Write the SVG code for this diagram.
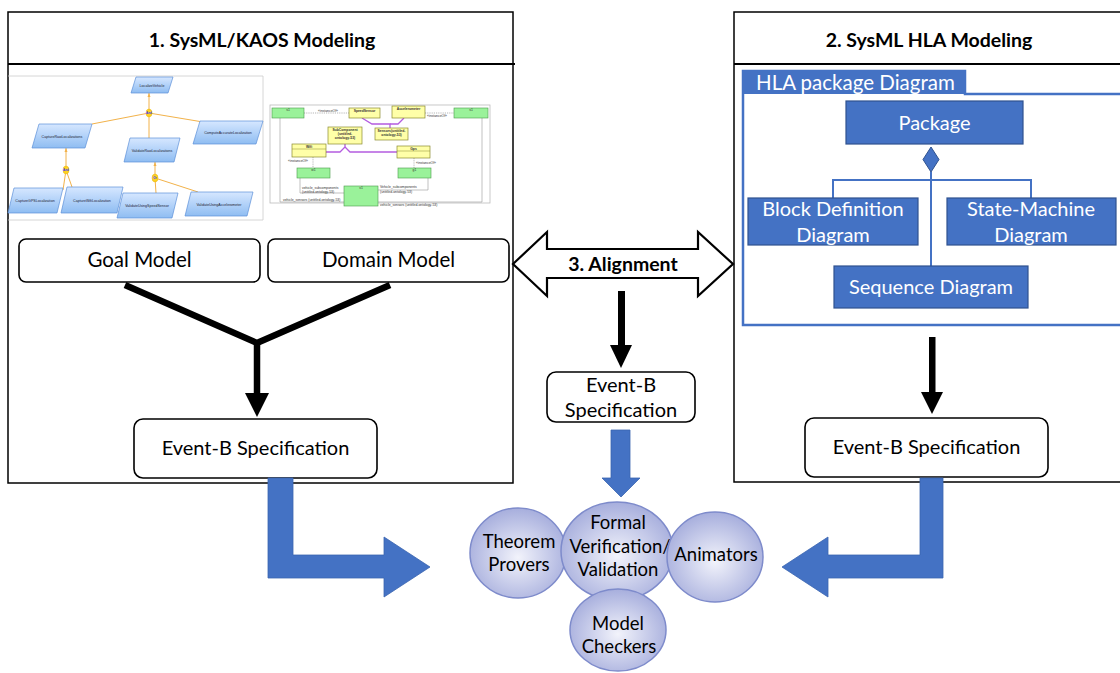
<svg xmlns="http://www.w3.org/2000/svg" width="1120" height="673" viewBox="0 0 1120 673">
<defs>
<style>
.t{font-family:Lato,"Open Sans",sans-serif;fill:#000}
.tw{font-family:Lato,"Open Sans",sans-serif;fill:#fff}
.bx{fill:#fff;stroke:#000;stroke-width:1.6}
.pb{fill:#4472C4;stroke:#2F528F;stroke-width:1.2}
.gl{fill:url(#gg);stroke:#5B8FD9;stroke-width:0.7}
.gt{font-family:"Liberation Sans",sans-serif;font-size:3.6px;fill:#223}
.ol{stroke:#F2B24A;stroke-width:1;fill:none}
.an{fill:#FFD21F;stroke:#E0A800;stroke-width:0.4}
.ye{fill:#FFFFA8;stroke:#8A8A30;stroke-width:0.7}
.gr{fill:#9AF29A;stroke:#4A9A4A;stroke-width:0.6}
.dt{stroke:#888;stroke-width:0.6;stroke-dasharray:1.2 1;fill:none}
.gy{stroke:#999;stroke-width:0.6;fill:none}
.pu{stroke:#B45CE0;stroke-width:1.3;fill:none}
.dx{font-family:"Liberation Sans",sans-serif;font-size:3.4px;fill:#333}
.cc{stroke:#7E8BCB;stroke-width:1.5;fill:url(#cg)}
</style>
<linearGradient id="gg" x1="0" y1="0" x2="0" y2="1"><stop offset="0" stop-color="#D6E7FF"/><stop offset="1" stop-color="#8FBDF2"/></linearGradient>
<radialGradient id="cg" cx="0.5" cy="0.55" r="0.6"><stop offset="0" stop-color="#F2F3FB"/><stop offset="1" stop-color="#A0A8DA"/></radialGradient>
</defs>

<!-- Panel 1 -->
<g id="panel1">
<rect x="8" y="12" width="505" height="471" fill="none" stroke="#000" stroke-width="1.5"/>
<line x1="8" y1="64" x2="515" y2="64" stroke="#000" stroke-width="2"/>
<text class="t" x="262" y="47" font-size="19.5" font-weight="bold" text-anchor="middle">1. SysML/KAOS Modeling</text>
</g>

<!-- Goal model thumbnail -->
<g id="goal-thumb">
<polyline points="8,76 263,76 263,220 8,220" fill="none" stroke="#ccc" stroke-width="0.8"/>
<line class="ol" x1="149" y1="93" x2="149" y2="113"/>
<polygon points="149,93 147.5,97 150.5,97" fill="#F2B24A"/>
<line class="ol" x1="149" y1="113" x2="92" y2="124"/>
<line class="ol" x1="149" y1="113" x2="203" y2="122"/>
<line class="ol" x1="149" y1="113" x2="149" y2="138"/>
<line class="ol" x1="66" y1="148" x2="66" y2="170"/>
<polygon points="66,148 64.5,152 67.5,152" fill="#F2B24A"/>
<line class="ol" x1="66" y1="170" x2="63" y2="190"/>
<line class="ol" x1="66" y1="170" x2="72" y2="187"/>
<line class="ol" x1="155" y1="162" x2="155" y2="178"/>
<polygon points="155,162 153.5,166 156.5,166" fill="#F2B24A"/>
<line class="ol" x1="155" y1="178" x2="156" y2="193"/>
<line class="ol" x1="155" y1="178" x2="198" y2="192"/>
<polygon class="gl" points="136,77 173,77 168,93 131,93"/>
<text class="gt" x="152" y="86.5" text-anchor="middle">LocalizeVehicle</text>
<polygon class="gl" points="39,124 92,124 85,148 32,148"/>
<text class="gt" x="62" y="137.5" text-anchor="middle">CaptureRawLocalizations</text>
<polygon class="gl" points="130,138 180,138 174,162 124,162"/>
<text class="gt" x="152" y="151.5" text-anchor="middle">ValidateRawLocalizations</text>
<polygon class="gl" points="200,121 263,121 256,144 193,144"/>
<text class="gt" x="228" y="134" text-anchor="middle">ComputeAccurateLocalization</text>
<polygon class="gl" points="14,188 63,188 57,213 8,213"/>
<text class="gt" x="35" y="202" text-anchor="middle">CaptureGPSLocalization</text>
<polygon class="gl" points="67,187 123,187 117,213 61,213"/>
<text class="gt" x="92" y="201.5" text-anchor="middle">CaptureWifiLocalization</text>
<polygon class="gl" points="123,193 178,193 172,218 117,218"/>
<text class="gt" x="147" y="207" text-anchor="middle">ValidateUsingSpeedSensor</text>
<polygon class="gl" points="191,192 253,192 247,216 185,216"/>
<text class="gt" x="219" y="205.5" text-anchor="middle">ValidateUsingAccelerometer</text>
<ellipse class="an" cx="149" cy="113" rx="3" ry="4"/>
<text x="149" y="114.3" font-family="Liberation Sans,sans-serif" font-size="3" font-weight="bold" fill="#33f" text-anchor="middle">And</text>
<ellipse class="an" cx="66" cy="170" rx="3" ry="4"/>
<text x="66" y="171.3" font-family="Liberation Sans,sans-serif" font-size="3" font-weight="bold" fill="#33f" text-anchor="middle">And</text>
<ellipse class="an" cx="155" cy="178" rx="3" ry="4"/>
<text x="155" y="179.3" font-family="Liberation Sans,sans-serif" font-size="3" font-weight="bold" fill="#33f" text-anchor="middle">Or</text>
</g>

<!-- Domain model thumbnail -->
<g id="domain-thumb">
<rect x="270" y="105" width="220" height="98" fill="#fff" stroke="#bbb" stroke-width="0.8"/>
<line class="dt" x1="304" y1="113" x2="349" y2="113"/>
<text class="dx" x="318" y="112">«instanceOf»</text>
<line class="dt" x1="425" y1="113" x2="454" y2="113"/>
<text class="dx" x="427" y="116.5">«instanceOf»</text>
<polyline class="pu" points="362,118 372,124 390,124 390,128"/>
<polyline class="pu" points="404,118 398,124 390,124"/>
<polyline class="pu" points="326,152 340,152 345,147 345,144"/>
<polyline class="pu" points="397,152 350,152 345,147"/>
<line class="dt" x1="313" y1="157" x2="313" y2="168"/>
<text class="dx" x="288" y="162">«instanceOf»</text>
<line class="dt" x1="414" y1="158" x2="414" y2="168"/>
<text class="dx" x="416" y="164">«instanceOf»</text>
<polyline class="gy" points="300,178 300,193 344,193"/>
<text class="dx" x="302" y="189">vehicle_subcomponents</text>
<text class="dx" x="302" y="193">(untitled-ontology-53)</text>
<polyline class="gy" points="428,178 428,190 378,190"/>
<text class="dx" x="380" y="188">Vehicle_subcomponents</text>
<text class="dx" x="380" y="193">(untitled-ontology-53)</text>
<polyline class="gy" points="280,118 280,202 344,202"/>
<text class="dx" x="283" y="201">vehicle_sensors (untitled-ontology-53)</text>
<polyline class="gy" points="482,118 482,202 378,202"/>
<text class="dx" x="380" y="206">vehicle_sensors (untitled-ontology-53)</text>
<rect class="gr" x="272" y="108" width="32" height="10"/>
<text class="dx" x="288" y="111" text-anchor="middle">s1</text>
<rect class="gr" x="454" y="108" width="34" height="10"/>
<text class="dx" x="471" y="111" text-anchor="middle">s1</text>
<rect class="ye" x="349" y="108" width="31" height="10"/>
<text class="dx" x="364.5" y="112" text-anchor="middle" font-weight="bold">SpeedSensor</text>
<rect class="ye" x="392" y="106" width="33" height="12"/>
<text class="dx" x="408.5" y="110" text-anchor="middle" font-weight="bold">Accelerometer</text>
<rect class="ye" x="375" y="128" width="33" height="12"/>
<text class="dx" x="391.5" y="132" text-anchor="middle" font-weight="bold">Sensors(untitled-</text>
<text class="dx" x="391.5" y="136" text-anchor="middle" font-weight="bold">ontology-53)</text>
<rect class="ye" x="328" y="127" width="34" height="17"/>
<text class="dx" x="345" y="131" text-anchor="middle" font-weight="bold">SubComponent</text>
<text class="dx" x="345" y="135" text-anchor="middle" font-weight="bold">(untitled-</text>
<text class="dx" x="345" y="139" text-anchor="middle" font-weight="bold">ontology-53)</text>
<rect class="ye" x="292" y="144" width="34" height="13"/>
<line x1="292" y1="149" x2="326" y2="149" stroke="#8A8A30" stroke-width="0.5"/>
<text class="dx" x="309" y="148" text-anchor="middle" font-weight="bold">Wifi</text>
<rect class="ye" x="397" y="146" width="33" height="12"/>
<line x1="397" y1="151" x2="430" y2="151" stroke="#8A8A30" stroke-width="0.5"/>
<text class="dx" x="413.5" y="150" text-anchor="middle" font-weight="bold">Gps</text>
<rect class="gr" x="297" y="168" width="33" height="10"/>
<text class="dx" x="313.5" y="171" text-anchor="middle">w1</text>
<rect class="gr" x="398" y="168" width="33" height="10"/>
<text class="dx" x="414.5" y="171" text-anchor="middle">g1</text>
<rect class="gr" x="344" y="186" width="34" height="20"/>
<text class="dx" x="361" y="189" text-anchor="middle">v1</text>
</g>

<!-- Left boxes -->
<g id="goal-model">
<rect class="bx" x="19" y="239" width="241" height="43" rx="7"/>
<text class="t" x="139.5" y="267" font-size="20.5" text-anchor="middle">Goal Model</text>
</g>
<g id="domain-model">
<rect class="bx" x="268" y="239" width="241" height="43" rx="7"/>
<text class="t" x="388.5" y="267" font-size="20.5" text-anchor="middle">Domain Model</text>
</g>
<g id="eventb-left">
<rect class="bx" x="134" y="419" width="243" height="59" rx="9"/>
<text class="t" x="255.5" y="455" font-size="20" text-anchor="middle">Event-B Specification</text>
</g>

<!-- Panel 2 -->
<g id="panel2">
<polyline points="1122,12 734,12 734,482 1122,482" fill="none" stroke="#000" stroke-width="1.5"/>
<line x1="734" y1="64" x2="1120" y2="64" stroke="#000" stroke-width="2"/>
<text class="t" x="929" y="47" font-size="19.5" font-weight="bold" text-anchor="middle">2. SysML HLA Modeling</text>
</g>

<g id="hla-frame">
<polyline points="1122,94 965,94 965,71 743,71 743,325 1122,325" fill="none" stroke="#4472C4" stroke-width="2.5"/>
<rect x="744" y="72" width="220" height="22" fill="#4472C4"/>
<text class="tw" x="756" y="90" font-size="20.5">HLA package Diagram</text>
</g>
<g id="hla-links">
<line x1="931" y1="172" x2="931" y2="266" stroke="#4472C4" stroke-width="2"/>
<polyline points="833,198 833,180 1031,180 1031,198" fill="none" stroke="#4472C4" stroke-width="2"/>
<polygon points="931,147 939,159.5 931,172 923,159.5" fill="#4472C4" stroke="#2F528F" stroke-width="1"/>
</g>
<g id="package">
<rect class="pb" x="846" y="101" width="177" height="43"/>
<text class="tw" x="934.5" y="130" font-size="20" text-anchor="middle">Package</text>
</g>
<g id="bdd">
<rect class="pb" x="748" y="198" width="170" height="47"/>
<text class="tw" x="833" y="216" font-size="20" text-anchor="middle">Block Definition</text>
<text class="tw" x="833" y="242" font-size="20" text-anchor="middle">Diagram</text>
</g>
<g id="smd">
<rect class="pb" x="947" y="198" width="169" height="47"/>
<text class="tw" x="1031" y="216" font-size="20" text-anchor="middle">State-Machine</text>
<text class="tw" x="1031" y="242" font-size="20" text-anchor="middle">Diagram</text>
</g>
<g id="seq">
<rect class="pb" x="834" y="266" width="194" height="42"/>
<text class="tw" x="931" y="294" font-size="20" text-anchor="middle">Sequence Diagram</text>
</g>

<g id="eventb-right">
<rect class="bx" x="805" y="418" width="243" height="59" rx="9"/>
<text class="t" x="926.5" y="454" font-size="20" text-anchor="middle">Event-B Specification</text>
</g>

<!-- Alignment -->
<g id="alignment">
<polygon points="513,264 547,232 547,249 698,249 698,232 733,264 698,296 698,278 547,278 547,296" fill="#fff" stroke="#000" stroke-width="2.2" stroke-linejoin="miter"/>
<text class="t" x="623" y="271" font-size="19.5" font-weight="bold" text-anchor="middle">3. Alignment</text>
</g>

<g id="eventb-center">
<rect class="bx" x="547" y="372" width="148" height="50" rx="9"/>
<text class="t" x="621" y="392" font-size="20" text-anchor="middle">Event-B</text>
<text class="t" x="621" y="417" font-size="20" text-anchor="middle">Specification</text>
</g>

<!-- Circles -->
<g id="theorem">
<ellipse class="cc" cx="518" cy="553" rx="48" ry="45"/>
<text class="t" x="519" y="548" font-size="18.5" text-anchor="middle">Theorem</text>
<text class="t" x="519" y="571" font-size="18.5" text-anchor="middle">Provers</text>
</g>
<g id="formal">
<ellipse class="cc" cx="617" cy="551" rx="56" ry="49"/>
<text class="t" x="618" y="529" font-size="18.5" text-anchor="middle">Formal</text>
<text class="t" x="620" y="553" font-size="18.5" text-anchor="middle">Verification/</text>
<text class="t" x="618" y="576" font-size="18.5" text-anchor="middle">Validation</text>
</g>
<g id="animators">
<ellipse class="cc" cx="715" cy="557" rx="48" ry="45"/>
<text class="t" x="716" y="561" font-size="18.5" text-anchor="middle">Animators</text>
</g>
<g id="checkers">
<ellipse class="cc" cx="618" cy="630" rx="48" ry="41"/>
<text class="t" x="618" y="630" font-size="18.5" text-anchor="middle">Model</text>
<text class="t" x="619" y="653" font-size="18.5" text-anchor="middle">Checkers</text>
</g>

<!-- Connectors -->
<g id="connectors">
<polyline points="125,285 257,343 390,285" fill="none" stroke="#000" stroke-width="6.5" stroke-linejoin="miter"/>
<line x1="257" y1="341" x2="257" y2="395" stroke="#000" stroke-width="6.5"/>
<polygon points="245,393 269,393 257,417" fill="#000"/>
<rect x="618" y="291" width="7" height="56" fill="#000"/>
<polygon points="610,345 632,345 621,368" fill="#000"/>
<rect x="929" y="337" width="6.5" height="57" fill="#000"/>
<polygon points="921,392 943,392 932,414" fill="#000"/>
<polygon points="611,430 630,430 630,478 640,478 621,497 602,478 611,478" fill="#4472C4" stroke="#3A64B0" stroke-width="0.8"/>
<polygon points="268,478 293,478 293,555 384,555 384,537 430,567 384,597 384,578 268,578" fill="#4472C4" stroke="#3A64B0" stroke-width="0.8"/>
<polygon points="943,478 920,478 920,555 828,555 828,537 782,567 828,597 828,578 943,578" fill="#4472C4" stroke="#3A64B0" stroke-width="0.8"/>
</g>
</svg>
